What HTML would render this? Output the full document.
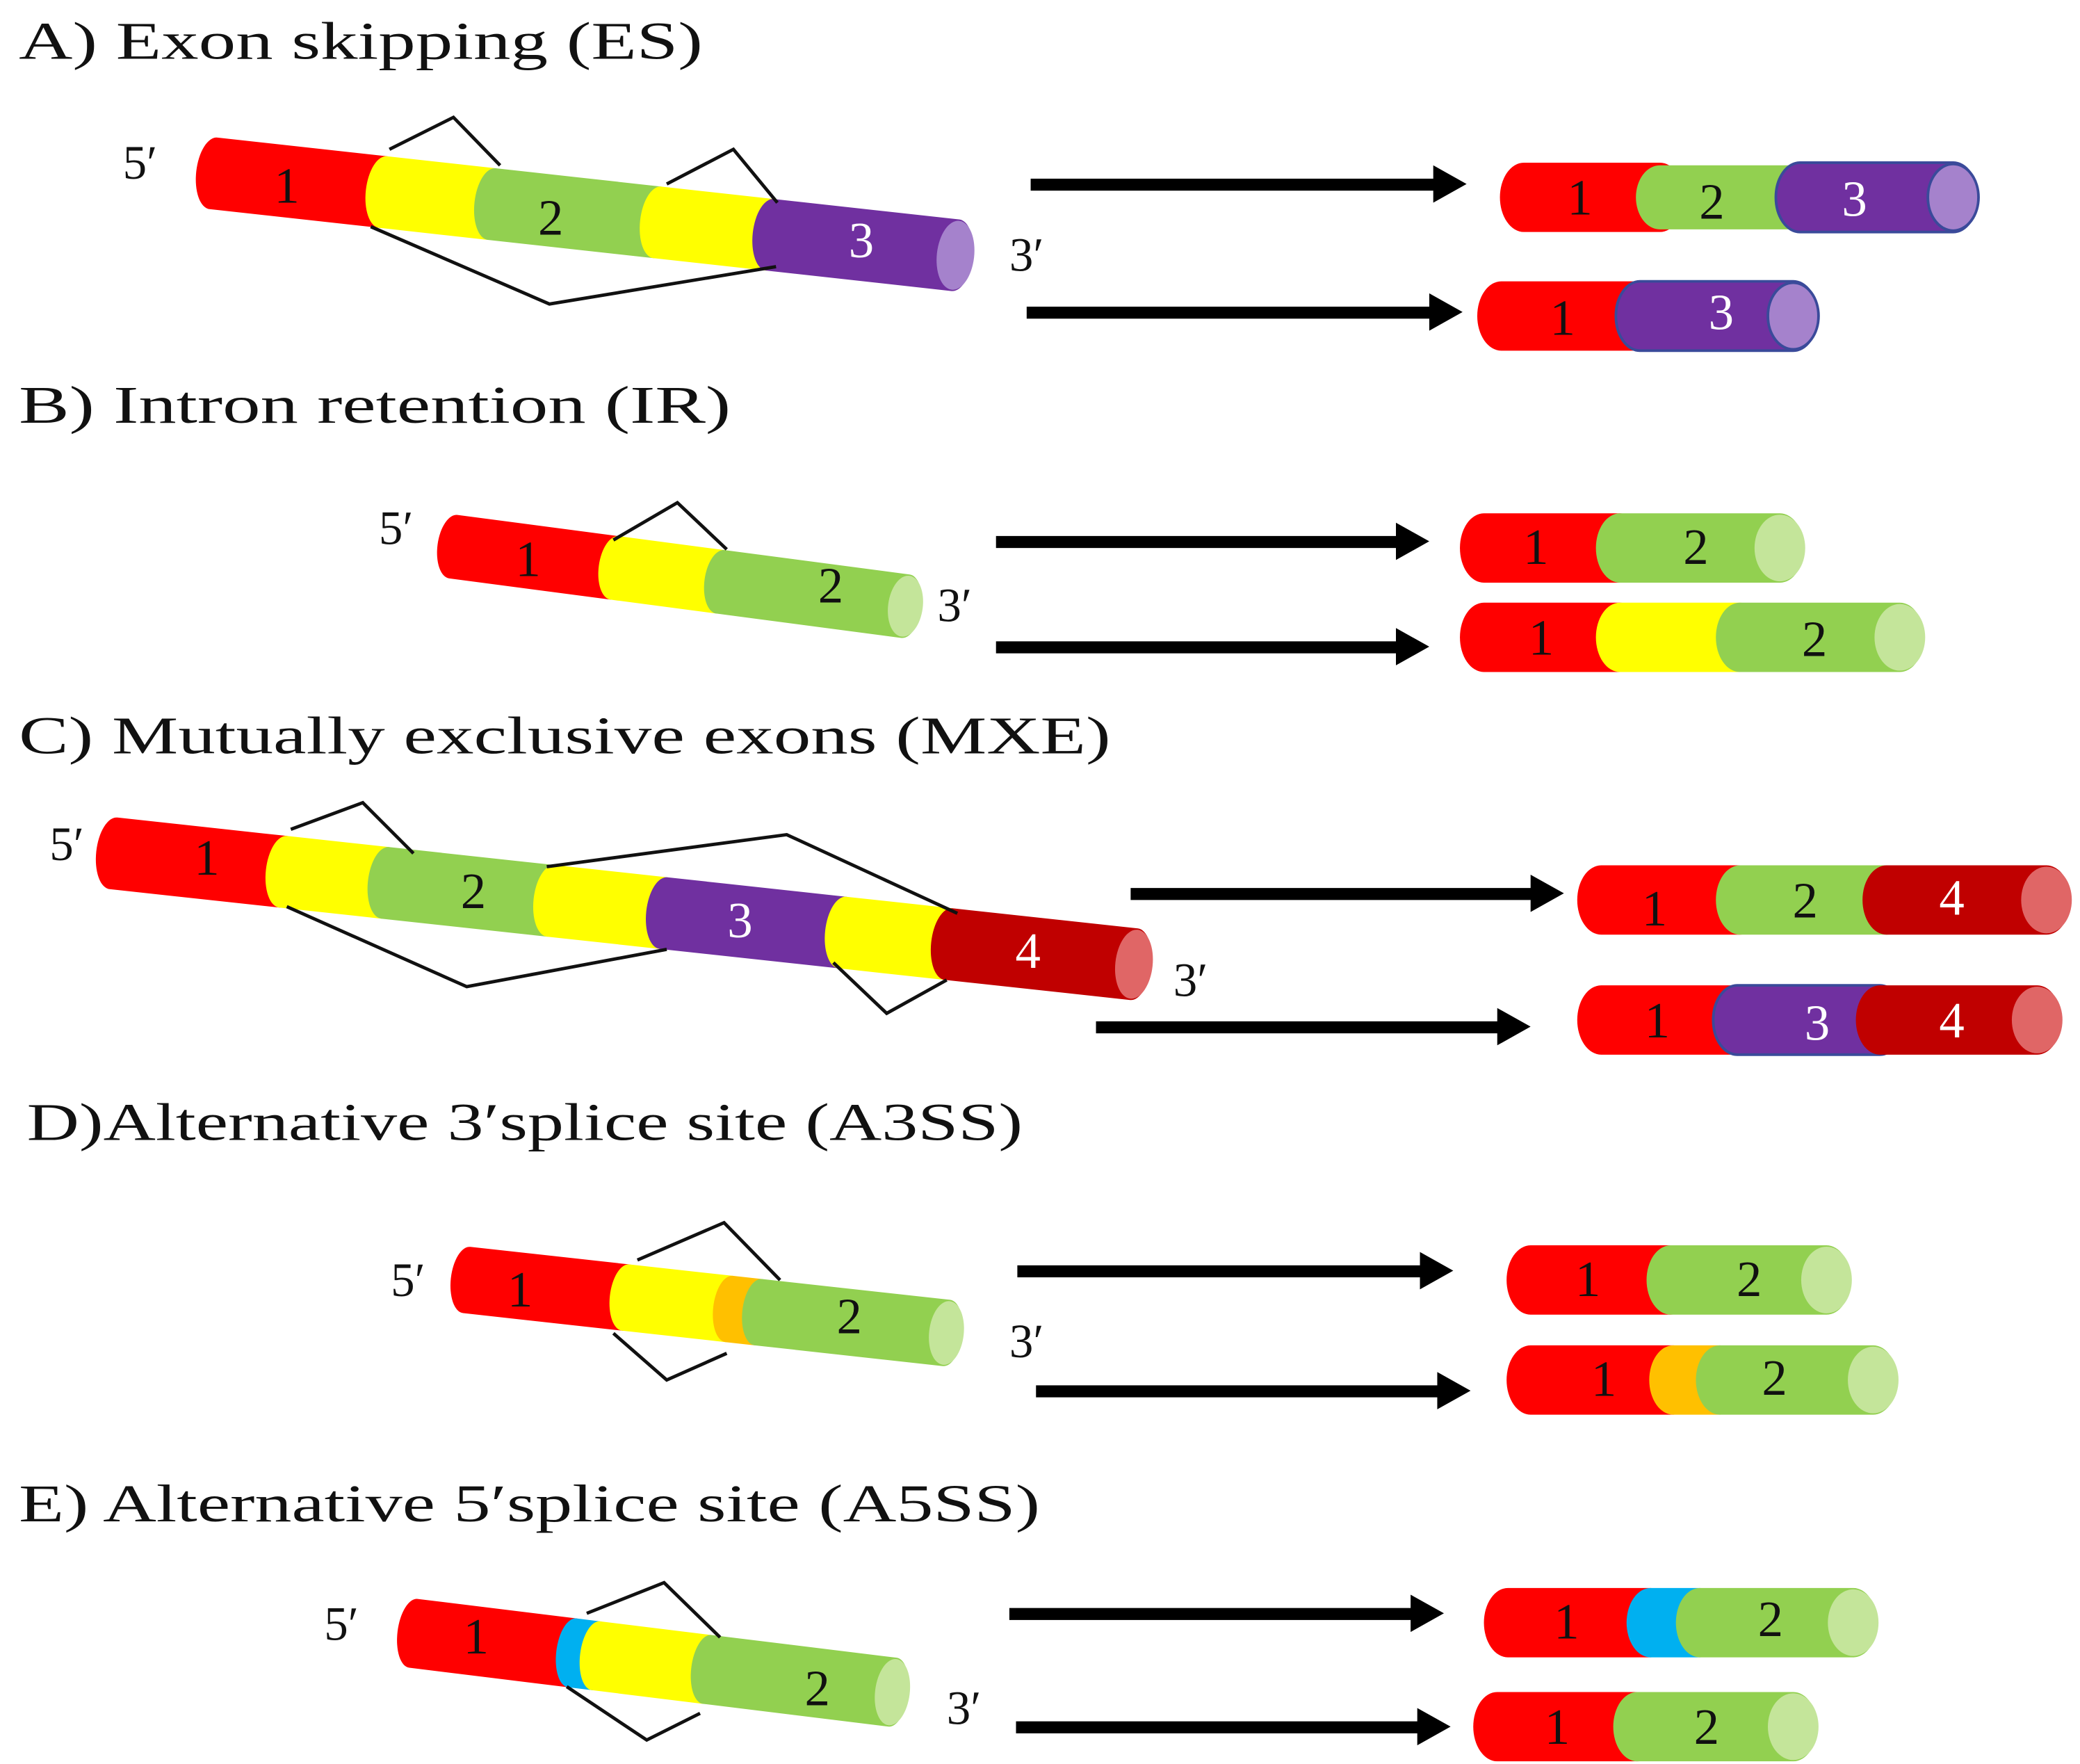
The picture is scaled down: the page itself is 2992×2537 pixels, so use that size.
<!DOCTYPE html>
<html><head><meta charset="utf-8"><style>
html,body{margin:0;padding:0;background:#fff}
svg{display:block}
text{font-family:"Liberation Serif",serif}
</style></head><body>
<svg width="2992" height="2537" viewBox="0 0 1560 1323" xmlns="http://www.w3.org/2000/svg">
<rect width="1560" height="1323" fill="#fff"/>
<g font-size="40" fill="#111">
<text x="14" y="44" textLength="513" lengthAdjust="spacingAndGlyphs">A) Exon skipping (ES)</text>
<text x="14" y="317" textLength="534" lengthAdjust="spacingAndGlyphs">B) Intron retention (IR)</text>
<text x="14" y="565" textLength="819" lengthAdjust="spacingAndGlyphs">C) Mutually exclusive exons (MXE)</text>
<text x="20" y="855" textLength="747" lengthAdjust="spacingAndGlyphs">D)Alternative 3′splice site (A3SS)</text>
<text x="14" y="1141" textLength="766" lengthAdjust="spacingAndGlyphs">E) Alternative 5′splice site (A5SS)</text>
</g>
<g font-size="36" fill="#111">
<text x="92" y="134">5′</text><text x="757" y="203">3′</text>
<text x="284" y="408">5′</text><text x="703" y="466">3′</text>
<text x="37" y="645">5′</text><text x="880" y="747">3′</text>
<text x="293" y="972">5′</text><text x="757" y="1018">3′</text>
<text x="243" y="1230">5′</text><text x="710" y="1293">3′</text>
</g>
<!-- A source -->
<g transform="translate(160,130) rotate(6.3)">
<path d="M0 -27H128A13 27 0 0 1 128 27H0A13 27 0 0 1 0 -27Z" fill="#f00"/>
<path d="M128 -27H210A13 27 0 0 1 210 27H128A13 27 0 0 1 128 -27Z" fill="#ff0"/>
<path d="M210 -27H335A13 27 0 0 1 335 27H210A13 27 0 0 1 210 -27Z" fill="#92d050"/>
<path d="M335 -27H420A13 27 0 0 1 420 27H335A13 27 0 0 1 335 -27Z" fill="#ff0"/>
<path d="M420 -27H560A13 27 0 0 1 560 27H420A13 27 0 0 1 420 -27Z" fill="#7030a0"/>
<ellipse cx="560" cy="0" rx="14" ry="26" fill="#a582cc"/>
</g>
<!-- B source -->
<g transform="translate(340,410) rotate(7.5)">
<path d="M0 -24H122A12 24 0 0 1 122 24H0A12 24 0 0 1 0 -24Z" fill="#f00"/>
<path d="M122 -24H202A12 24 0 0 1 202 24H122A12 24 0 0 1 122 -24Z" fill="#ff0"/>
<path d="M202 -24H342A12 24 0 0 1 342 24H202A12 24 0 0 1 202 -24Z" fill="#92d050"/>
<ellipse cx="342" cy="0" rx="13" ry="23" fill="#c4e59a"/>
</g>
<!-- C source -->
<g transform="translate(85,640) rotate(6.2)">
<path d="M0 -27H128A13 27 0 0 1 128 27H0A13 27 0 0 1 0 -27Z" fill="#f00"/>
<path d="M128 -27H205A13 27 0 0 1 205 27H128A13 27 0 0 1 128 -27Z" fill="#ff0"/>
<path d="M205 -27H330A13 27 0 0 1 330 27H205A13 27 0 0 1 205 -27Z" fill="#92d050"/>
<path d="M330 -27H415A13 27 0 0 1 415 27H330A13 27 0 0 1 330 -27Z" fill="#ff0"/>
<path d="M415 -27H550A13 27 0 0 1 550 27H415A13 27 0 0 1 415 -27Z" fill="#7030a0"/>
<path d="M550 -27H630A13 27 0 0 1 630 27H550A13 27 0 0 1 550 -27Z" fill="#ff0"/>
<path d="M630 -27H770A13 27 0 0 1 770 27H630A13 27 0 0 1 630 -27Z" fill="#c00000"/>
<ellipse cx="770" cy="0" rx="14" ry="26" fill="#e06666"/>
</g>
<!-- D source -->
<g transform="translate(350,960) rotate(6.3)">
<path d="M0 -25H120A12 25 0 0 1 120 25H0A12 25 0 0 1 0 -25Z" fill="#f00"/>
<path d="M120 -25H198A12 25 0 0 1 198 25H120A12 25 0 0 1 120 -25Z" fill="#ff0"/>
<path d="M198 -25H220A12 25 0 0 1 220 25H198A12 25 0 0 1 198 -25Z" fill="#ffc000"/>
<path d="M220 -25H362A12 25 0 0 1 362 25H220A12 25 0 0 1 220 -25Z" fill="#92d050"/>
<ellipse cx="362" cy="0" rx="13" ry="24" fill="#c4e59a"/>
</g>
<!-- E source -->
<g transform="translate(310,1225) rotate(7)">
<path d="M0 -26H120A12 26 0 0 1 120 26H0A12 26 0 0 1 0 -26Z" fill="#f00"/>
<path d="M120 -26H138A12 26 0 0 1 138 26H120A12 26 0 0 1 120 -26Z" fill="#00b0f0"/>
<path d="M138 -26H222A12 26 0 0 1 222 26H138A12 26 0 0 1 138 -26Z" fill="#ff0"/>
<path d="M222 -26H362A12 26 0 0 1 362 26H222A12 26 0 0 1 222 -26Z" fill="#92d050"/>
<ellipse cx="362" cy="0" rx="13" ry="25" fill="#c4e59a"/>
</g>
<!-- splice lines -->
<g fill="none" stroke="#111" stroke-width="2.5">
<polyline points="292,112 340,88 375,124"/>
<polyline points="500,138 550,112 583,152"/>
<polyline points="278,170 412,228 582,200"/>
<polyline points="460,405 508,377 545,412"/>
<polyline points="218,622 272,602 310,640"/>
<polyline points="410,650 590,626 718,685"/>
<polyline points="215,680 350,740 500,712"/>
<polyline points="625,722 665,760 710,735"/>
<polyline points="478,945 543,917 585,960"/>
<polyline points="460,1000 500,1035 545,1015"/>
<polyline points="440,1210 498,1187 540,1228"/>
<polyline points="425,1265 485,1305 525,1285"/>
</g>
<!-- arrows -->
<g fill="#000">
<rect x="773" y="134" width="305" height="9"/><polygon points="1075,124 1100,138 1075,152"/>
<rect x="770" y="230" width="305" height="9"/><polygon points="1072,220 1097,234 1072,248"/>
<rect x="747" y="402" width="303" height="9"/><polygon points="1047,392 1072,406 1047,420"/>
<rect x="747" y="481" width="303" height="9"/><polygon points="1047,471 1072,485 1047,499"/>
<rect x="848" y="666" width="303" height="9"/><polygon points="1148,656 1173,670 1148,684"/>
<rect x="822" y="766" width="303" height="9"/><polygon points="1123,756 1148,770 1123,784"/>
<rect x="763" y="949" width="305" height="9"/><polygon points="1065,939 1090,953 1065,967"/>
<rect x="777" y="1039" width="305" height="9"/><polygon points="1078,1029 1103,1043 1078,1057"/>
<rect x="757" y="1206" width="305" height="9"/><polygon points="1058,1196 1083,1210 1058,1224"/>
<rect x="762" y="1291" width="305" height="9"/><polygon points="1063,1281 1088,1295 1063,1309"/>
</g>
<!-- products -->
<g transform="translate(0,148)">
<path d="M1143 -26H1245A18 26 0 0 1 1245 26H1143A18 26 0 0 1 1143 -26Z" fill="#f00"/>
<path d="M1245 -24H1350A18 24 0 0 1 1350 24H1245A18 24 0 0 1 1245 -24Z" fill="#92d050"/>
<path d="M1350 -26H1465A18 26 0 0 1 1465 26H1350A18 26 0 0 1 1350 -26Z" fill="#7030a0" stroke="#3a4a9a" stroke-width="2"/>
<ellipse cx="1465" cy="0" rx="19" ry="25" fill="#a582cc" stroke="#3a4a9a" stroke-width="2"/>
</g>
<g transform="translate(0,237)">
<path d="M1126 -26H1230A18 26 0 0 1 1230 26H1126A18 26 0 0 1 1126 -26Z" fill="#f00"/>
<path d="M1230 -26H1345A18 26 0 0 1 1345 26H1230A18 26 0 0 1 1230 -26Z" fill="#7030a0" stroke="#3a4a9a" stroke-width="2"/>
<ellipse cx="1345" cy="0" rx="19" ry="25" fill="#a582cc" stroke="#3a4a9a" stroke-width="2"/>
</g>
<g transform="translate(0,411)">
<path d="M1113 -26H1215A18 26 0 0 1 1215 26H1113A18 26 0 0 1 1113 -26Z" fill="#f00"/>
<path d="M1215 -26H1335A18 26 0 0 1 1335 26H1215A18 26 0 0 1 1215 -26Z" fill="#92d050"/>
<ellipse cx="1335" cy="0" rx="19" ry="25" fill="#c4e59a"/>
</g>
<g transform="translate(0,478)">
<path d="M1113 -26H1215A18 26 0 0 1 1215 26H1113A18 26 0 0 1 1113 -26Z" fill="#f00"/>
<path d="M1215 -26H1305A18 26 0 0 1 1305 26H1215A18 26 0 0 1 1215 -26Z" fill="#ff0"/>
<path d="M1305 -26H1425A18 26 0 0 1 1425 26H1305A18 26 0 0 1 1305 -26Z" fill="#92d050"/>
<ellipse cx="1425" cy="0" rx="19" ry="25" fill="#c4e59a"/>
</g>
<g transform="translate(0,675)">
<path d="M1201 -26H1305A18 26 0 0 1 1305 26H1201A18 26 0 0 1 1201 -26Z" fill="#f00"/>
<path d="M1305 -26H1415A18 26 0 0 1 1415 26H1305A18 26 0 0 1 1305 -26Z" fill="#92d050"/>
<path d="M1415 -26H1535A18 26 0 0 1 1535 26H1415A18 26 0 0 1 1415 -26Z" fill="#c00000"/>
<ellipse cx="1535" cy="0" rx="19" ry="25" fill="#e06666"/>
</g>
<g transform="translate(0,765)">
<path d="M1201 -26H1303A18 26 0 0 1 1303 26H1201A18 26 0 0 1 1201 -26Z" fill="#f00"/>
<path d="M1303 -26H1410A18 26 0 0 1 1410 26H1303A18 26 0 0 1 1303 -26Z" fill="#7030a0" stroke="#3a4a9a" stroke-width="2"/>
<path d="M1410 -26H1528A18 26 0 0 1 1528 26H1410A18 26 0 0 1 1410 -26Z" fill="#c00000"/>
<ellipse cx="1528" cy="0" rx="19" ry="25" fill="#e06666"/>
</g>
<g transform="translate(0,960)">
<path d="M1148 -26H1253A18 26 0 0 1 1253 26H1148A18 26 0 0 1 1148 -26Z" fill="#f00"/>
<path d="M1253 -26H1370A18 26 0 0 1 1370 26H1253A18 26 0 0 1 1253 -26Z" fill="#92d050"/>
<ellipse cx="1370" cy="0" rx="19" ry="25" fill="#c4e59a"/>
</g>
<g transform="translate(0,1035)">
<path d="M1148 -26H1255A18 26 0 0 1 1255 26H1148A18 26 0 0 1 1148 -26Z" fill="#f00"/>
<path d="M1255 -26H1290A18 26 0 0 1 1290 26H1255A18 26 0 0 1 1255 -26Z" fill="#ffc000"/>
<path d="M1290 -26H1405A18 26 0 0 1 1405 26H1290A18 26 0 0 1 1290 -26Z" fill="#92d050"/>
<ellipse cx="1405" cy="0" rx="19" ry="25" fill="#c4e59a"/>
</g>
<g transform="translate(0,1217)">
<path d="M1131 -26H1238A18 26 0 0 1 1238 26H1131A18 26 0 0 1 1131 -26Z" fill="#f00"/>
<path d="M1238 -26H1275A18 26 0 0 1 1275 26H1238A18 26 0 0 1 1238 -26Z" fill="#00b0f0"/>
<path d="M1275 -26H1390A18 26 0 0 1 1390 26H1275A18 26 0 0 1 1275 -26Z" fill="#92d050"/>
<ellipse cx="1390" cy="0" rx="19" ry="25" fill="#c4e59a"/>
</g>
<g transform="translate(0,1295)">
<path d="M1123 -26H1228A18 26 0 0 1 1228 26H1123A18 26 0 0 1 1123 -26Z" fill="#f00"/>
<path d="M1228 -26H1345A18 26 0 0 1 1345 26H1228A18 26 0 0 1 1228 -26Z" fill="#92d050"/>
<ellipse cx="1345" cy="0" rx="19" ry="25" fill="#c4e59a"/>
</g>
<!-- numbers -->
<g font-size="38" text-anchor="middle" fill="#111">
<text x="215" y="152">1</text><text x="413" y="176">2</text><text x="646" y="193" fill="#fff">3</text>
<text x="1185" y="161">1</text><text x="1284" y="164">2</text><text x="1391" y="162" fill="#fff">3</text>
<text x="1172" y="251">1</text><text x="1291" y="247" fill="#fff">3</text>
<text x="396" y="432">1</text><text x="623" y="452">2</text>
<text x="1152" y="423">1</text><text x="1272" y="423">2</text>
<text x="1156" y="491">1</text><text x="1361" y="492">2</text>
<text x="155" y="656">1</text><text x="355" y="681">2</text><text x="555" y="703" fill="#fff">3</text><text x="771" y="726" fill="#fff">4</text>
<text x="1241" y="694">1</text><text x="1354" y="688">2</text><text x="1464" y="686" fill="#fff">4</text>
<text x="1243" y="778">1</text><text x="1363" y="780" fill="#fff">3</text><text x="1464" y="778" fill="#fff">4</text>
<text x="390" y="980">1</text><text x="637" y="1000">2</text>
<text x="1191" y="972">1</text><text x="1312" y="972">2</text>
<text x="1203" y="1047">1</text><text x="1331" y="1046">2</text>
<text x="357" y="1240">1</text><text x="613" y="1279">2</text>
<text x="1175" y="1229">1</text><text x="1328" y="1227">2</text>
<text x="1168" y="1308">1</text><text x="1280" y="1308">2</text>
</g>
</svg>
</body></html>
